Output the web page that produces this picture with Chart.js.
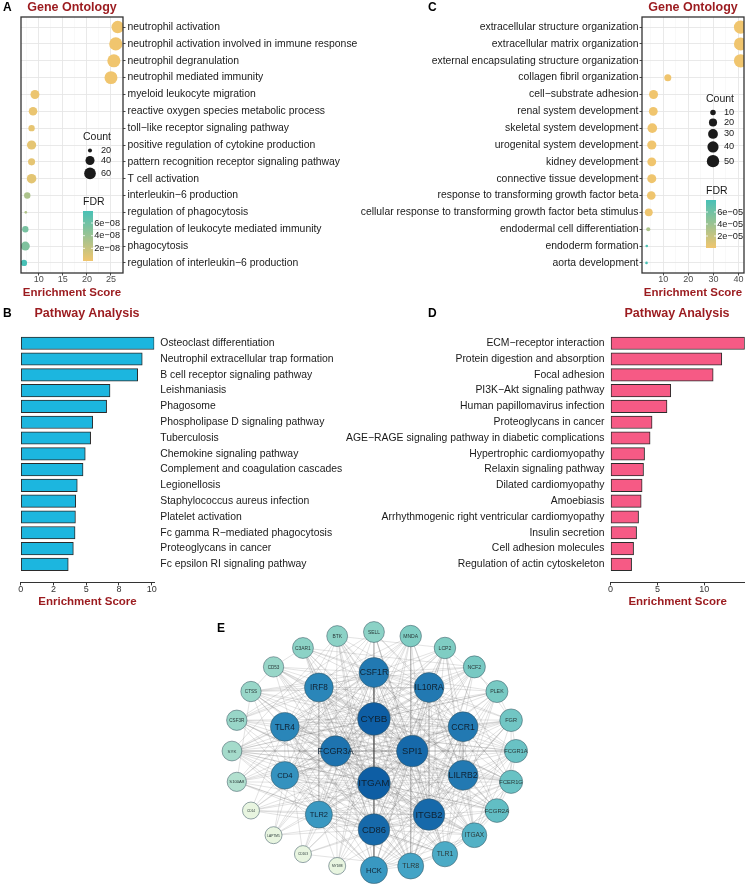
<!DOCTYPE html>
<html>
<head>
<meta charset="utf-8">
<script src="https://cdn.jsdelivr.net/npm/chart.js@4.4.1/dist/chart.umd.min.js"></script>
<style>
  body { margin: 0; background: #fff; width: 747px; height: 886px; position: relative; overflow: hidden;
         font-family: "Liberation Sans", Arial, sans-serif; }
  canvas { position: absolute; }
  .tag { position: absolute; font-weight: bold; font-size: 12px; line-height: 1; color: #000; }
  .ttl { position: absolute; font-weight: bold; font-size: 12.5px; line-height: 1; color: #9b1b1f;
         transform: translate(-50%, -50%); white-space: nowrap; }
</style>
</head>
<body>
<canvas id="cA" width="373" height="300" style="left:0;top:0"></canvas>
<canvas id="cC" width="407" height="300" style="left:340px;top:0"></canvas>
<canvas id="cB" width="373" height="310" style="left:0;top:300px"></canvas>
<canvas id="cD" width="417" height="310" style="left:330px;top:300px"></canvas>
<canvas id="cE" width="330" height="271" style="left:200px;top:615px"></canvas>

<div class="tag" style="left:3px;top:1px">A</div>
<div class="ttl" style="left:72px;top:7px">Gene Ontology</div>
<div class="tag" style="left:428px;top:1px">C</div>
<div class="ttl" style="left:693px;top:7px">Gene Ontology</div>
<div class="tag" style="left:3px;top:307px">B</div>
<div class="ttl" style="left:87px;top:313px">Pathway Analysis</div>
<div class="tag" style="left:428px;top:307px">D</div>
<div class="ttl" style="left:677px;top:313px">Pathway Analysis</div>
<div class="tag" style="left:217px;top:622px">E</div>

<script>
// ---- A: GO terms (first gene set)
const goA_terms = ['neutrophil activation', 'neutrophil activation involved in immune response',
  'neutrophil degranulation', 'neutrophil mediated immunity', 'myeloid leukocyte migration',
  'reactive oxygen species metabolic process', 'toll−like receptor signaling pathway',
  'positive regulation of cytokine production', 'pattern recognition receptor signaling pathway',
  'T cell activation', 'interleukin−6 production', 'regulation of phagocytosis',
  'regulation of leukocyte mediated immunity', 'phagocytosis', 'regulation of interleukin−6 production'];
const goA_score = [26.4, 26.0, 25.6, 25.0, 9.2, 8.8, 8.5, 8.5, 8.5, 8.5, 7.6, 7.3, 7.2, 7.2, 6.9];
const goA_count = [68, 75, 74, 72, 39, 37, 26, 41, 29, 43, 26, 19, 26, 39, 26];
const goA_fdr = [1e-12, 1e-12, 2e-12, 3e-12, 2e-9, 3e-9, 4e-9, 5e-9, 5e-9, 6e-9, 3.2e-8, 3.0e-8, 5.6e-8, 5.3e-8, 7.9e-8];
const goA_sizeBreaks = [20, 40, 60];
const goA_fdrBreaks = [2e-8, 4e-8, 6e-8];

// ---- C: GO terms (second gene set)
const goC_terms = ['extracellular structure organization', 'extracellular matrix organization',
  'external encapsulating structure organization', 'collagen fibril organization', 'cell−substrate adhesion',
  'renal system development', 'skeletal system development', 'urogenital system development',
  'kidney development', 'connective tissue development', 'response to transforming growth factor beta',
  'cellular response to transforming growth factor beta stimulus', 'endodermal cell differentiation',
  'endoderm formation', 'aorta development'];
const goC_score = [40.8, 40.8, 40.8, 11.8, 6.1, 6.0, 5.6, 5.4, 5.4, 5.4, 5.2, 4.2, 4.0, 3.4, 3.3];
const goC_count = [58, 57, 58, 15, 25, 24, 29, 26, 24, 25, 23, 19, 7, 6, 6];
const goC_fdr = [1e-15, 1e-15, 1e-15, 2e-9, 4e-8, 3e-8, 1e-7, 2e-7, 2e-7, 3e-7, 5e-7, 1e-6, 3.2e-5, 7.6e-5, 8.0e-5];
const goC_sizeBreaks = [10, 20, 30, 40, 50];
const goC_fdrBreaks = [2e-5, 4e-5, 6e-5];

// ---- B: KEGG pathways (first gene set)
const pathB_terms = ['Osteoclast differentiation', 'Neutrophil extracellular trap formation',
  'B cell receptor signaling pathway', 'Leishmaniasis', 'Phagosome', 'Phospholipase D signaling pathway',
  'Tuberculosis', 'Chemokine signaling pathway', 'Complement and coagulation cascades', 'Legionellosis',
  'Staphylococcus aureus infection', 'Platelet activation', 'Fc gamma R−mediated phagocytosis',
  'Proteoglycans in cancer', 'Fc epsilon RI signaling pathway'];
const pathB_score = [10.2, 9.28, 8.93, 6.82, 6.56, 5.5, 5.34, 4.93, 4.76, 4.32, 4.2, 4.18, 4.15, 4.02, 3.63];
const pathB_ticks = [0, 2.5, 5, 7.5, 10];
const pathB_tickText = ['0', '2', '5', '8', '10'];

// ---- D: KEGG pathways (second gene set)
const pathD_terms = ['ECM−receptor interaction', 'Protein digestion and absorption', 'Focal adhesion',
  'PI3K−Akt signaling pathway', 'Human papillomavirus infection', 'Proteoglycans in cancer',
  'AGE−RAGE signaling pathway in diabetic complications', 'Hypertrophic cardiomyopathy',
  'Relaxin signaling pathway', 'Dilated cardiomyopathy', 'Amoebiasis',
  'Arrhythmogenic right ventricular cardiomyopathy', 'Insulin secretion', 'Cell adhesion molecules',
  'Regulation of actin cytoskeleton'];
const pathD_score = [14.3, 11.86, 10.94, 6.42, 6.02, 4.43, 4.22, 3.63, 3.52, 3.37, 3.27, 2.99, 2.78, 2.46, 2.25];
const pathD_ticks = [0, 5, 10];

// ---- E: PPI network, concentric rings (outer -> inner), clockwise from the top
const ppi_ring1 = ['SELL', 'MNDA', 'LCP2', 'NCF2', 'PLEK', 'FGR', 'FCGR1A', 'FCER1G', 'FCGR2A', 'ITGAX',
  'TLR1', 'TLR8', 'HCK', 'MYD88', 'CD163', 'LAPTM5', 'CD14', 'S100A8', 'SYK', 'CSF3R', 'CTSS', 'CD53',
  'C3AR1', 'BTK'];
const ppi_ring1Score = [15, 16, 16, 17, 17, 18, 19, 19, 20, 22, 23, 24, 26, 8, 8, 8, 8, 12, 13, 14, 14, 14, 15, 15];
const ppi_ring2 = ['CSF1R', 'IL10RA', 'CCR1', 'LILRB2', 'ITGB2', 'CD86', 'TLR2', 'CD4', 'TLR4', 'IRF8'];
const ppi_ring2Score = [31, 31, 31, 31, 34, 34, 26, 27, 29, 29];
const ppi_ring3 = ['CYBB', 'SPI1', 'ITGAM', 'FCGR3A'];
const ppi_ring3Score = [36, 34, 36, 32];
// genes that interact with every other gene of the network
const ppi_hubs = ['CYBB', 'ITGAM', 'SPI1', 'CD86', 'ITGB2', 'FCGR3A', 'CSF1R'];
const ppi_links = {
  IL10RA: 'CCR1 LILRB2 IRF8 TLR4 CD4 TLR2 HCK TLR8 TLR1 ITGAX FCGR2A FCER1G FCGR1A FGR PLEK NCF2 LCP2 MNDA SELL BTK C3AR1 CD53 CTSS SYK',
  CCR1: 'LILRB2 IRF8 TLR4 CD4 TLR2 HCK TLR8 TLR1 ITGAX FCGR2A FCER1G FCGR1A FGR NCF2 LCP2 SELL C3AR1 CD53 CTSS CSF3R S100A8',
  LILRB2: 'IRF8 TLR4 CD4 TLR2 HCK TLR8 TLR1 ITGAX FCGR2A FCER1G FCGR1A FGR PLEK LCP2 MNDA SYK CD53 CD14',
  IRF8: 'TLR4 CD4 TLR2 HCK TLR8 TLR1 ITGAX FCGR1A FCER1G SELL BTK C3AR1 CTSS CSF3R LAPTM5',
  TLR4: 'CD4 TLR2 HCK TLR8 TLR1 ITGAX FCGR2A FCER1G FCGR1A PLEK NCF2 MNDA BTK SYK S100A8 CD14 CD163',
  CD4: 'TLR2 HCK TLR8 TLR1 ITGAX FCGR2A FCGR1A FGR LCP2 SELL CTSS SYK LAPTM5',
  TLR2: 'HCK TLR8 TLR1 ITGAX FCER1G NCF2 MNDA CD53 SYK S100A8 MYD88 CD14',
  HCK: 'TLR8 TLR1 ITGAX FCGR2A FCER1G FCGR1A FGR PLEK LCP2 BTK SYK CSF3R',
  TLR8: 'TLR1 ITGAX FCGR1A NCF2 MNDA C3AR1 CTSS CD163',
  TLR1: 'ITGAX FCGR2A FCER1G PLEK SELL CD53 S100A8',
  ITGAX: 'FCGR2A FCER1G FCGR1A FGR LCP2 BTK CSF3R',
  FCGR2A: 'FCER1G FCGR1A SYK BTK CTSS',
  FCER1G: 'FCGR1A SYK FGR LCP2 CD53',
  FCGR1A: 'FGR SYK CSF3R',
  FGR: 'PLEK NCF2 SYK',
  PLEK: 'LCP2 SYK',
  NCF2: 'CTSS C3AR1',
  LCP2: 'SYK BTK',
  MNDA: 'S100A8 CSF3R',
  SELL: 'CSF3R',
  BTK: 'SYK',
  C3AR1: 'CD53',
  CD53: 'CTSS',
  CTSS: 'S100A8'
};

Chart.defaults.font.family = '"Liberation Sans", Arial, sans-serif';
Chart.defaults.color = '#1a1a1a';

const labelFont = { size: 10.4 };
const titleRed = '#9b1b1f';
const noLegend = { legend: { display: false }, tooltip: { enabled: false } };

// FDR colour scale (low = gold, high = teal)
const fdrLow = [240, 197, 110], fdrHigh = [72, 193, 182];
function fdrColor(v, lo, hi) {
  const t = Math.min(1, Math.max(0, (v - lo) / (hi - lo)));
  return 'rgb(' + fdrLow.map((a, k) => Math.round(a + (fdrHigh[k] - a) * t)).join(',') + ')';
}
function sizeScale(counts, rMin, rMax) {
  const lo = Math.min(...counts), hi = Math.max(...counts);
  return c => rMin + (rMax - rMin) * Math.sqrt(Math.max(0, c - lo) / (hi - lo));
}
function expText(v) {
  return v.toExponential(0).replace(/e-(\d)$/, 'e−0$1').replace('e-', 'e−');
}

const frame = {
  id: 'frame',
  afterDatasetsDraw(chart) {
    const { ctx, chartArea: a } = chart;
    ctx.save();
    ctx.strokeStyle = '#333';
    ctx.lineWidth = 1.3;
    ctx.strokeRect(a.left, a.top, a.right - a.left, a.bottom - a.top);
    ctx.restore();
  }
};

// size + colourbar legends drawn over the dot plots
function goLegend(s) {
  return {
    id: 'goLegend',
    afterDraw(chart) {
      const ctx = chart.ctx;
      ctx.save();
      ctx.fillStyle = '#1a1a1a';
      ctx.textBaseline = 'middle';
      ctx.textAlign = 'left';
      ctx.font = '10.5px "Liberation Sans", Arial';
      ctx.fillText('Count', s.x, s.countY);
      ctx.font = '9.2px "Liberation Sans", Arial';
      let y = s.countY + 13.5;
      s.breaks.forEach((c, i) => {
        const r = s.radius(c);
        if (i > 0) y += Math.max(10, s.radius(s.breaks[i - 1]) + r + 2.5);
        ctx.beginPath();
        ctx.arc(s.x + 7, y, r, 0, Math.PI * 2);
        ctx.fill();
        ctx.fillText(String(c), s.x + 18, y);
      });
      ctx.font = '10.5px "Liberation Sans", Arial';
      ctx.fillText('FDR', s.x, s.fdrY);
      const top = s.fdrY + 9, h = s.barH, w = 10, bottom = top + h;
      const g = ctx.createLinearGradient(0, bottom, 0, top);
      for (let k = 0; k <= 10; k++) g.addColorStop(k / 10, fdrColor(s.lo + (s.hi - s.lo) * k / 10, s.lo, s.hi));
      ctx.fillStyle = g;
      ctx.fillRect(s.x, top, w, h);
      ctx.font = '9.2px "Liberation Sans", Arial';
      s.fdrBreaks.forEach(v => {
        const yy = bottom - (v - s.lo) / (s.hi - s.lo) * h;
        ctx.strokeStyle = '#fff';
        ctx.lineWidth = 0.8;
        ctx.beginPath();
        ctx.moveTo(s.x, yy); ctx.lineTo(s.x + 2, yy);
        ctx.moveTo(s.x + w - 2, yy); ctx.lineTo(s.x + w, yy);
        ctx.stroke();
        ctx.fillStyle = '#1a1a1a';
        ctx.fillText(expText(v), s.x + w + 1.2, yy);
      });
      ctx.restore();
    }
  };
}

function dotPlot(id, terms, score, count, fdr, opt) {
  const radius = sizeScale(count, opt.rMin, opt.rMax);
  const lo = Math.min(...fdr), hi = Math.max(...fdr);
  const major = v => v % opt.step === 0;
  return new Chart(document.getElementById(id), {
    type: 'bubble',
    data: {
      datasets: [{
        data: terms.map((t, i) => ({ x: score[i], y: i, r: radius(count[i]) })),
        backgroundColor: fdr.map(v => fdrColor(v, lo, hi)),
        borderWidth: 0,
        clip: 0
      }]
    },
    options: {
      responsive: false, animation: false, events: [],
      layout: { padding: opt.padding, autoPadding: false },
      plugins: noLegend,
      scales: {
        x: {
          type: 'linear', min: opt.xMin, max: opt.xMax,
          afterBuildTicks: s => { s.ticks = opt.grid.map(v => ({ value: v })); },
          afterFit: s => { s.height = 27; },
          ticks: { callback: v => (major(v) ? String(v) : ''), color: '#4d4d4d', padding: 0,
                   font: { size: 9, lineHeight: 1 }, maxRotation: 0, autoSkip: false },
          grid: {
            color: c => (c.tick && major(c.tick.value) ? '#e6e6e6' : '#f2f2f2'),
            lineWidth: c => (c.tick && major(c.tick.value) ? 0.9 : 0.5),
            tickColor: c => (c.tick && major(c.tick.value) ? '#333' : 'rgba(0,0,0,0)'),
            tickLength: 2.5
          },
          border: { display: false },
          title: { display: true, text: 'Enrichment Score', color: titleRed,
                   font: { size: 11.5, weight: 'bold' }, padding: { top: 0, bottom: 0 } }
        },
        y: {
          type: 'linear', position: opt.yPos, reverse: true, min: -0.6, max: terms.length - 0.4,
          afterBuildTicks: s => { s.ticks = terms.map((t, i) => ({ value: i })); },
          afterFit: s => { s.width = opt.yWidth; },
          ticks: { callback: v => terms[v], font: labelFont, color: '#1a1a1a', padding: opt.tickPad, autoSkip: false },
          grid: { color: '#e6e6e6', lineWidth: 0.9, tickColor: '#333', tickLength: 2.5 },
          border: { display: false }
        }
      }
    },
    plugins: [frame, goLegend(Object.assign({ radius, lo, hi }, opt.legend))]
  });
}

dotPlot('cA', goA_terms, goA_score, goA_count, goA_fdr, {
  rMin: 1.3, rMax: 6.6, step: 5, xMin: 6.3, xMax: 27.5,
  grid: [7.5, 10, 12.5, 15, 17.5, 20, 22.5, 25],
  padding: { left: 21, top: 17, right: 0, bottom: 0 }, yPos: 'right', yWidth: 250, tickPad: 2,
  legend: { x: 83, countY: 137, fdrY: 202, barH: 50, breaks: goA_sizeBreaks, fdrBreaks: goA_fdrBreaks }
});

dotPlot('cC', goC_terms, goC_score, goC_count, goC_fdr, {
  rMin: 1.3, rMax: 6.6, step: 10, xMin: 1.5, xMax: 42.2,
  grid: [5, 10, 15, 20, 25, 30, 35, 40],
  padding: { left: 0, top: 17, right: 3, bottom: 0 }, yPos: 'left', yWidth: 302, tickPad: 1,
  legend: { x: 366, countY: 99, fdrY: 191, barH: 48, breaks: goC_sizeBreaks, fdrBreaks: goC_fdrBreaks }
});

function barPlot(id, terms, score, opt) {
  return new Chart(document.getElementById(id), {
    type: 'bar',
    data: {
      datasets: [{
        data: score.map((v, i) => ({ x: v, y: i })),
        backgroundColor: opt.color,
        borderColor: '#2b2b2b',
        borderWidth: 1,
        borderSkipped: false,
        barThickness: 12.5
      }]
    },
    options: {
      indexAxis: 'y',
      responsive: false, animation: false, events: [],
      layout: { padding: opt.padding, autoPadding: false },
      plugins: noLegend,
      scales: {
        x: {
          type: 'linear', min: 0, max: Math.max(...score),
          afterBuildTicks: s => { s.ticks = opt.ticks.map(v => ({ value: v })); },
          afterFit: s => { s.height = 27.6; },
          ticks: { callback: (v, i) => opt.tickText[i], color: '#333', padding: 0,
                   font: { size: 9, lineHeight: 1 }, maxRotation: 0, autoSkip: false },
          grid: { drawOnChartArea: false, tickLength: 3, tickColor: '#333' },
          border: { display: true, color: '#333', width: 1 },
          title: { display: true, text: 'Enrichment Score', color: titleRed,
                   font: { size: 11.5, weight: 'bold' }, padding: { top: 0, bottom: 1.4 } }
        },
        y: {
          type: 'linear', position: opt.yPos, reverse: true, min: -0.6, max: terms.length - 0.4,
          afterBuildTicks: s => { s.ticks = terms.map((t, i) => ({ value: i })); },
          afterFit: s => { s.width = opt.yWidth; },
          ticks: { callback: v => terms[v], font: labelFont, color: '#1a1a1a', padding: 6, autoSkip: false },
          grid: { display: false, drawTicks: false },
          border: { display: false }
        }
      }
    }
  });
}

barPlot('cB', pathB_terms, pathB_score, {
  color: '#1cb6df', ticks: pathB_ticks, tickText: pathB_tickText,
  padding: { left: 20.7, top: 25.2, right: 0, bottom: 0 }, yPos: 'right', yWidth: 218.7
});
barPlot('cD', pathD_terms, pathD_score, {
  color: '#f65a85', ticks: pathD_ticks, tickText: pathD_ticks.map(String),
  padding: { left: 0, top: 25.2, right: 2.3, bottom: 0 }, yPos: 'left', yWidth: 280.5
});

// ---- E: network
function ringLayout(names, scores, radius, startDeg) {
  return names.map((n, i) => {
    const a = (startDeg + i * 360 / names.length) * Math.PI / 180;
    return { name: n, score: scores[i], x: radius * Math.cos(a), y: radius * Math.sin(a) };
  });
}
const nodes = [].concat(
  ringLayout(ppi_ring1, ppi_ring1Score, 1, -90),
  ringLayout(ppi_ring2, ppi_ring2Score, 0.66, -90),
  ringLayout(ppi_ring3, ppi_ring3Score, 0.27, -90)
);
const byName = {};
nodes.forEach(n => { byName[n.name] = n; });

const edgeKeys = new Set();
function addEdge(a, b) {
  if (a === b || !byName[a] || !byName[b]) return;
  edgeKeys.add([a, b].sort().join('|'));
}
ppi_hubs.forEach(h => nodes.forEach(n => addEdge(h, n.name)));
Object.keys(ppi_links).forEach(a => ppi_links[a].split(' ').forEach(b => addEdge(a, b)));
const edgePts = [];
edgeKeys.forEach(k => {
  const [a, b] = k.split('|');
  edgePts.push({ x: byName[a].x, y: byName[a].y }, { x: byName[b].x, y: byName[b].y }, { x: byName[b].x, y: null });
});

const nodeStops = [[8, [232, 245, 224]], [13, [165, 219, 203]], [16, [127, 205, 195]], [20, [98, 190, 196]],
  [24, [68, 164, 198]], [28, [46, 140, 188]], [32, [30, 115, 175]], [36, [14, 94, 164]]];
function nodeColor(s) {
  for (let k = 1; k < nodeStops.length; k++) {
    const [s0, c0] = nodeStops[k - 1], [s1, c1] = nodeStops[k];
    if (s <= s1) {
      const t = Math.max(0, (s - s0) / (s1 - s0));
      return 'rgb(' + c0.map((v, j) => Math.round(v + (c1[j] - v) * t)).join(',') + ')';
    }
  }
  return 'rgb(14,94,164)';
}
const nodeRadius = s => 8.5 + (s - 8) * 0.28;

const nodeLabels = {
  id: 'nodeLabels',
  afterDatasetsDraw(chart) {
    const ctx = chart.ctx;
    const meta = chart.getDatasetMeta(1);
    ctx.save();
    ctx.textAlign = 'center';
    ctx.textBaseline = 'middle';
    meta.data.forEach((el, i) => {
      const r = nodeRadius(nodes[i].score);
      ctx.font = (3.2 + (r - 8.5) * 0.85).toFixed(1) + 'px "Liberation Sans", Arial';
      ctx.fillStyle = nodes[i].score > 24 ? '#0f2233' : '#2a3a3a';
      ctx.fillText(nodes[i].name, el.x, el.y + 0.5);
    });
    ctx.restore();
  }
};

new Chart(document.getElementById('cE'), {
  type: 'bubble',
  data: {
    datasets: [{
      type: 'line',
      data: edgePts,
      borderColor: 'rgba(105,105,105,0.34)',
      borderWidth: 0.55,
      pointRadius: 0,
      spanGaps: false,
      fill: false,
      clip: false,
      order: 1
    }, {
      data: nodes.map(n => ({ x: n.x, y: n.y, r: nodeRadius(n.score) })),
      backgroundColor: nodes.map(n => nodeColor(n.score)),
      borderColor: 'rgba(55,85,95,0.75)',
      borderWidth: 0.7,
      clip: false,
      order: 0
    }]
  },
  options: {
    responsive: false, animation: false, events: [],
    layout: { padding: 0, autoPadding: false },
    plugins: noLegend,
    scales: {
      x: { type: 'linear', display: false, min: -1.225, max: 1.099 },
      y: { type: 'linear', display: false, reverse: true, min: -1.143, max: 1.134 }
    }
  },
  plugins: [nodeLabels]
});
</script>
</body>
</html>
